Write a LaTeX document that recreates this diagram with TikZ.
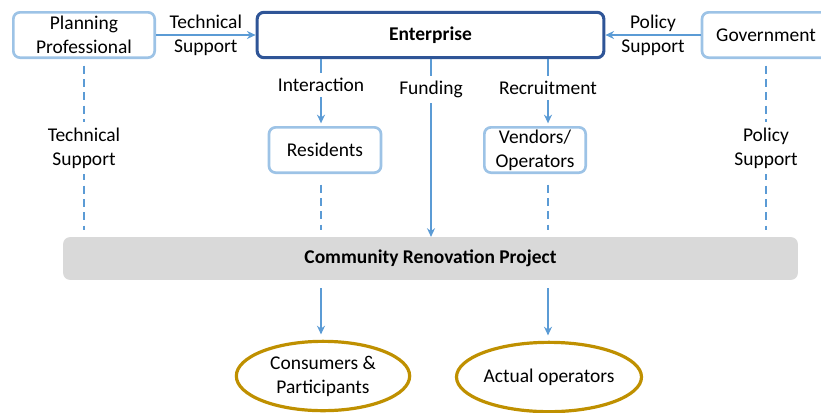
\documentclass[tikz,border=0pt]{standalone}
\usepackage{fontspec}
\setmainfont{Carlito}
\usetikzlibrary{arrows.meta,shapes.geometric}

\definecolor{lightblue}{HTML}{9DC3E6}
\definecolor{arrowblue}{HTML}{5B9BD5}
\definecolor{darkblue}{HTML}{2F5597}
\definecolor{projgray}{HTML}{D9D9D9}
\definecolor{gold}{HTML}{BF9000}

\begin{document}
\begin{tikzpicture}
	[x=0.75pt,y=-0.75pt,>={Stealth[length=6.5pt,width=6pt]},
		font=\fontsize{14.6}{18}\selectfont,
		actor node/.style={draw=lightblue,line width=2pt,rounded corners=5pt,align=center,inner sep=1pt},
		main node/.style={draw=darkblue,line width=2.3pt,rounded corners=5pt,font=\fontsize{14.6}{18}\selectfont\bfseries},
		project node/.style={fill=projgray,rounded corners=5pt,font=\fontsize{14.6}{18}\selectfont\bfseries},
		result node/.style={ellipse,draw=gold,line width=2.4pt,align=center,inner sep=0pt},
		flow/.style={->,draw=arrowblue,line width=1.9pt},
		link/.style={draw=arrowblue,line width=1.9pt,dash pattern=on 6pt off 4pt},
		cut label/.style={fill=white,inner xsep=2pt,inner ysep=4pt,align=center}]

	\useasboundingbox (0,0) rectangle (821,412);

	% columns of the vertical connectors
	\coordinate (rcol) at (321,0);
	\coordinate (fcol) at (431,0);
	\coordinate (vcol) at (548,0);

	\node[actor node, minimum width=106pt, minimum height=34pt] (plan) at (84,35) {Planning\\Professional};
	\node[main node, minimum width=260pt, minimum height=34pt] (ent) at (430.5,35) {Enterprise};
	\node[actor node, minimum width=96pt, minimum height=34pt] (gov) at (766,35) {Government};

	\node[actor node, minimum width=84pt, minimum height=34pt] (res) at (325,150) {Residents};
	\node[actor node, minimum width=76pt, minimum height=34pt] (vend) at (535,150) {Vendors/\\Operators};

	\node[project node, minimum width=551pt, minimum height=32pt] (proj) at (430.5,258.5) {Community Renovation Project};

	\node[result node, minimum width=130pt, minimum height=52pt] (cons) at (323,376) {Consumers \&\\Participants};
	\node[result node, minimum width=136pt, minimum height=52pt] (act) at (549,377) {Actual operators};

	% support towards the enterprise
	\draw[flow] (plan.east) -- node[align=center] {Technical\\Support} (ent.west);
	\draw[flow] (gov.west) -- node[align=center] {Policy\\Support} (ent.east);

	% enterprise downwards
	\draw[flow, shorten >=2pt] (ent.south -| rcol) -- node[cut label, pos=0.39] {Interaction} (res.north -| rcol);
	\draw[flow] (ent.south -| fcol) -- node[cut label, pos=0.17] {Funding} (proj.north -| fcol);
	\draw[flow, shorten >=2pt] (ent.south -| vcol) -- node[cut label, pos=0.43] {Recruitment} (vend.north -| vcol);

	% dashed links into the project
	\draw[link, shorten <=5pt, shorten >=5pt] (plan.south) -- node[cut label] {Technical\\Support} (proj.north -| plan.south);
	\draw[link, shorten <=5pt, shorten >=5pt] (gov.south) -- node[cut label] {Policy\\Support} (proj.north -| gov.south);
	\draw[link, shorten <=8pt, shorten >=5pt] (res.south -| rcol) -- (proj.north -| rcol);
	\draw[link, shorten <=8pt, shorten >=5pt] (vend.south -| vcol) -- (proj.north -| vcol);

	% project outcomes
	\draw[flow, shorten <=6pt, shorten >=4pt] (proj.south -| rcol) -- (cons.north -| rcol);
	\draw[flow, shorten <=6pt, shorten >=4pt] (proj.south -| vcol) -- (act.north -| vcol);

\end{tikzpicture}
\end{document}
